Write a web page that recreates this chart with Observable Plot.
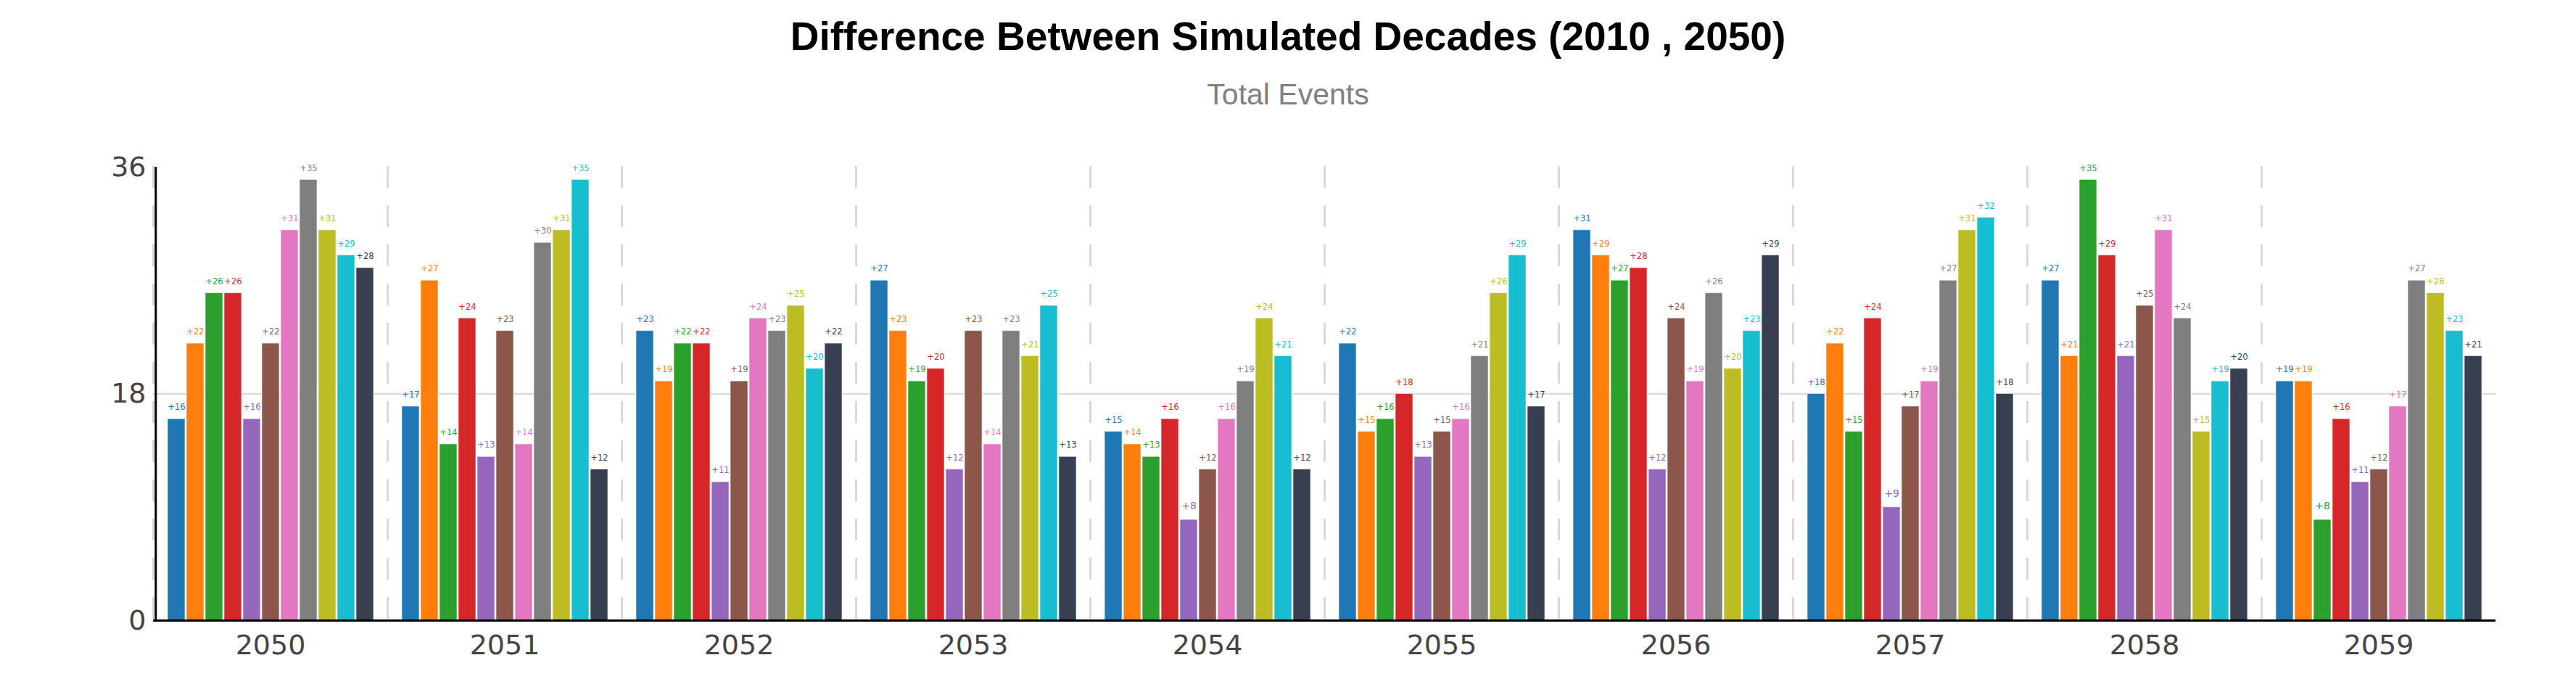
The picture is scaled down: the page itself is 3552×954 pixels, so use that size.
<!DOCTYPE html>
<html>
<head>
<meta charset="utf-8">
<script src="https://cdn.jsdelivr.net/npm/d3@7"></script>
<script src="https://cdn.jsdelivr.net/npm/@observablehq/plot@0.6"></script>
<style>
  html, body { margin: 0; padding: 0; background: #fff; }
  #wrap { width: 3552px; }
  #title { height: 100px; line-height: 100px; text-align: center; font-family: "Liberation Sans", Arial, sans-serif; font-weight: bold; font-size: 55px; color: #000; }
  #subtitle { height: 60px; line-height: 60px; text-align: center; font-family: "Liberation Sans", Arial, sans-serif; font-size: 41px; color: #808080; }
  #gap { height: 10px; }
</style>
</head>
<body>
<div id="wrap">
  <div id="title">Difference Between Simulated Decades (2010 , 2050)</div>
  <div id="subtitle">Total Events</div>
  <div id="gap"></div>
  <div id="chart"></div>
</div>
<script>
// ---- data ----
const years = ["2050", "2051", "2052", "2053", "2054", "2055", "2056", "2057", "2058", "2059"];
const series = ["Series 1", "Series 2", "Series 3", "Series 4", "Series 5", "Series 6",
                "Series 7", "Series 8", "Series 9", "Series 10", "Series 11"];
const palette = ["#1f77b4", "#ff7f0e", "#2ca02c", "#d62728", "#9467bd", "#8c564b",
                 "#e377c2", "#7f7f7f", "#bcbd22", "#17becf", "#383f51"];
const v2050 = [16, 22, 26, 26, 16, 22, 31, 35, 31, 29, 28];
const v2051 = [17, 27, 14, 24, 13, 23, 14, 30, 31, 35, 12];
const v2052 = [23, 19, 22, 22, 11, 19, 24, 23, 25, 20, 22];
const v2053 = [27, 23, 19, 20, 12, 23, 14, 23, 21, 25, 13];
const v2054 = [15, 14, 13, 16, 8, 12, 16, 19, 24, 21, 12];
const v2055 = [22, 15, 16, 18, 13, 15, 16, 21, 26, 29, 17];
const v2056 = [31, 29, 27, 28, 12, 24, 19, 26, 20, 23, 29];
const v2057 = [18, 22, 15, 24, 9, 17, 19, 27, 31, 32, 18];
const v2058 = [27, 21, 35, 29, 21, 25, 31, 24, 15, 19, 20];
const v2059 = [19, 19, 8, 16, 11, 12, 17, 27, 26, 23, 21];
const yTicks = [0, 18, 36];

const byYear = [v2050, v2051, v2052, v2053, v2054, v2055, v2056, v2057, v2058, v2059];
const rows = [];
years.forEach((yr, i) => series.forEach((s, j) => rows.push({year: yr, series: s, value: byYear[i][j]})));

// ---- layout ----
const W = 3552, H = 784, mL = 208, mR = 108, mT = 60, mB = 99;
const padIn = 0.08, padOut = 0.62;
const facetW = (W - mL - mR) / years.length;
const xb = d3.scaleBand(series, [0, facetW]).paddingInner(padIn).paddingOuter(padOut);
const axisOffset = xb(series[0]) + xb.bandwidth() / 2;

const chart = Plot.plot({
  width: W, height: H,
  marginLeft: mL, marginRight: mR, marginTop: mT, marginBottom: mB,
  style: {fontFamily: "DejaVu Sans, sans-serif", fontSize: "38px", color: "#444", background: "white"},
  fx: {domain: years, padding: 0, axis: "bottom", label: null, tickSize: 0, tickPadding: 20},
  x: {domain: series, axis: null, paddingInner: padIn, paddingOuter: padOut},
  y: {domain: [0, 36], ticks: yTicks, tickSize: 0, tickPadding: 10, label: null},
  color: {domain: series, range: palette},
  marks: [
    Plot.ruleY([18], {stroke: "#dcdcdc", strokeWidth: 2.5}),
    Plot.frame({anchor: "left", stroke: "#d9d9d9", strokeWidth: 3, strokeDasharray: "27,27"}),
    Plot.barY(rows, {fx: "year", x: "series", y: "value", fill: "series", stroke: "white", strokeWidth: 1, strokeOpacity: 0.6}),
    Plot.text(rows.filter(d => d.value >= 10), {fx: "year", x: "series", y: "value", text: d => "+" + d.value, fill: "series", fontSize: 11.5, dy: -16}),
    Plot.text(rows.filter(d => d.value < 10), {fx: "year", x: "series", y: "value", text: d => "+" + d.value, fill: "series", fontSize: 14, dy: -19}),
    Plot.ruleY([0], {stroke: "black", strokeWidth: 3}),
    Plot.ruleX([years[0]], {fx: d => d, x: () => series[0], dx: -axisOffset, stroke: "black", strokeWidth: 3})
  ]
});
document.getElementById("chart").appendChild(chart);
</script>
</body>
</html>
